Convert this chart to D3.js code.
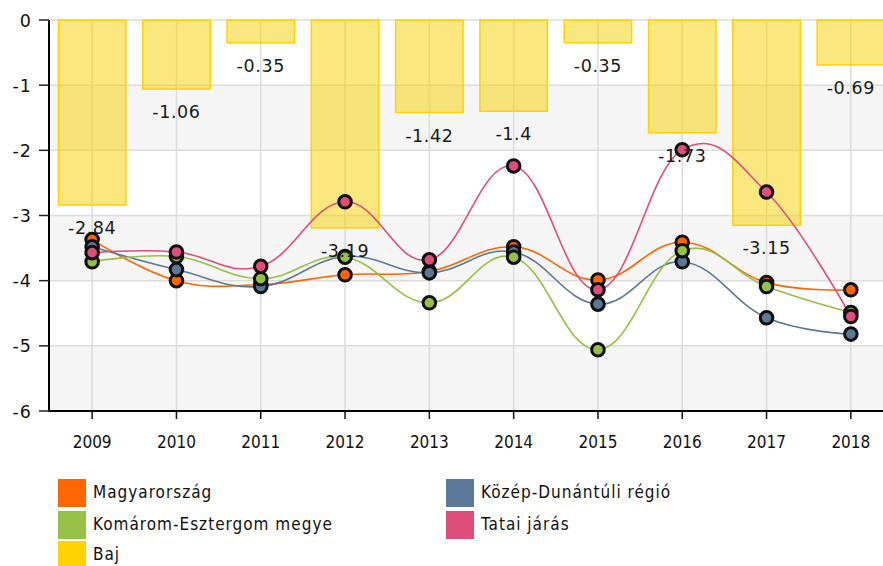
<!DOCTYPE html>
<html><head><meta charset="utf-8">
<script src="https://cdn.jsdelivr.net/npm/d3@7/dist/d3.min.js"></script>
<style>
body{margin:0;background:#fff;}
svg{display:block;font-family:"DejaVu Sans Condensed","DejaVu Sans",sans-serif;font-stretch:condensed;}
.wide{font-family:"DejaVu Sans",sans-serif;font-stretch:normal;}
</style></head>
<body><svg id="c" width="883" height="566"></svg>
<script>
const years = ['2009','2010','2011','2012','2013','2014','2015','2016','2017','2018'];
const baj = [-2.84,-1.06,-0.35,-3.19,-1.42,-1.4,-0.35,-1.73,-3.15,-0.69];
const magyarorszag = [-3.37,-4.0,-4.06,-3.91,-3.86,-3.48,-3.99,-3.41,-4.03,-4.14];
const kozepDunantuli = [-3.48,-3.83,-4.09,-3.63,-3.88,-3.56,-4.36,-3.71,-4.57,-4.82];
const komaromEsztergom = [-3.71,-3.63,-3.97,-3.64,-4.34,-3.64,-5.06,-3.54,-4.09,-4.49];
const tatai = [-3.57,-3.56,-3.78,-2.79,-3.68,-2.24,-4.14,-1.99,-2.64,-4.55];
const yTicks = [0,-1,-2,-3,-4,-5,-6];
const seriesNames = ['Magyarország','Közép-Dunántúli régió','Komárom-Esztergom megye','Tatai járás','Baj'];
const seriesColors = ['#ff6600','#5c7899','#96c046','#df4e7b','#ffd200'];

(function(){
const svg = d3.select('#c');
const pLeft = 49, pTop = 20, pBottom = 411, pRight = 883;
const x = d3.scaleBand().domain(years).range([50, 893]).paddingInner(0).paddingOuter(0);
const y = d3.scaleLinear().domain([-6, 0]).range([pBottom, pTop]);
const cx = d => x(d) + x.bandwidth()/2;

// bands
const g = svg.append('g');
[[-1,-2],[-3,-4],[-5,-6]].forEach(([a,b]) => {
  g.append('rect').attr('x', pLeft).attr('y', y(a)).attr('width', pRight-pLeft).attr('height', y(b)-y(a)).attr('fill', '#f5f5f5');
});
// horizontal grid
g.selectAll('.hg').data(yTicks).enter().append('line')
  .attr('x1', pLeft).attr('x2', pRight).attr('y1', d => y(d)).attr('y2', d => y(d))
  .attr('stroke', '#dcdcdc').attr('stroke-width', 1.5);
// vertical grid
g.selectAll('.vg').data(years).enter().append('line')
  .attr('x1', d => cx(d)).attr('x2', d => cx(d)).attr('y1', pTop).attr('y2', pBottom)
  .attr('stroke', '#dcdcdc').attr('stroke-width', 1.5);

// bars
const bw = x.bandwidth()*0.8;
svg.append('g').selectAll('rect').data(years).enter().append('rect')
  .attr('x', d => cx(d) - bw/2).attr('y', y(0))
  .attr('width', bw).attr('height', (d,i) => y(baj[i]) - y(0))
  .attr('fill', 'rgba(246,210,0,0.5)').attr('stroke', '#ffd200').attr('stroke-width', 1.5);

// lines
const lineData = [magyarorszag, kozepDunantuli, komaromEsztergom, tatai];
const line = d3.line().x((d,i) => cx(years[i])).y(d => y(d)).curve(d3.curveCardinal.tension(-0.2));
lineData.forEach((arr, si) => {
  svg.append('path').attr('d', line(arr)).attr('fill', 'none')
    .attr('stroke', seriesColors[si]).attr('stroke-width', 1.6);
});
lineData.forEach((arr, si) => {
  svg.append('g').selectAll('circle').data(arr).enter().append('circle')
    .attr('cx', (d,i) => cx(years[i])).attr('cy', d => y(d)).attr('r', 6.3)
    .attr('fill', seriesColors[si]).attr('stroke', '#111').attr('stroke-width', 3);
});

// axes
svg.append('line').attr('x1', pLeft).attr('x2', pLeft).attr('y1', pTop).attr('y2', pBottom+1)
  .attr('stroke', '#000').attr('stroke-width', 2);
svg.append('line').attr('x1', pLeft-1).attr('x2', pRight).attr('y1', pBottom).attr('y2', pBottom)
  .attr('stroke', '#000').attr('stroke-width', 2);
svg.selectAll('.yt').data(yTicks).enter().append('line')
  .attr('x1', 39).attr('x2', pLeft).attr('y1', d => y(d)).attr('y2', d => y(d))
  .attr('stroke', '#222').attr('stroke-width', 1.5);
svg.selectAll('.yl').data(yTicks).enter().append('text')
  .attr('class', 'wide')
  .attr('x', 32).attr('y', d => y(d) + 6.5).attr('text-anchor', 'end')
  .attr('font-size', 17.5).attr('fill', '#111').attr('letter-spacing', 1)
  .text(d => String(d));
svg.selectAll('.xt').data(years).enter().append('line')
  .attr('x1', d => cx(d)).attr('x2', d => cx(d)).attr('y1', pBottom).attr('y2', pBottom+8)
  .attr('stroke', '#111').attr('stroke-width', 1.5);
svg.selectAll('.xl').data(years).enter().append('text')
  .attr('x', d => cx(d)).attr('y', 448).attr('text-anchor', 'middle')
  .attr('font-size', 17).attr('fill', '#111').text(d => d);

// bar labels
svg.append('g').selectAll('text').data(years).enter().append('text')
  .attr('class', 'wide')
  .attr('x', d => cx(d)).attr('y', (d,i) => y(baj[i]) + 29).attr('text-anchor', 'middle')
  .attr('font-size', 17.5).attr('fill', '#1a1a1a').attr('letter-spacing', 0.6)
  .text((d,i) => String(baj[i]));

// legend
const legPos = [[58,479],[446,479],[58,511],[446,511],[58,541]];
seriesNames.forEach((n, i) => {
  const [lx, ly] = legPos[i];
  svg.append('rect').attr('x', lx).attr('y', ly).attr('width', 28).attr('height', 28)
    .attr('fill', seriesColors[i]);
  svg.append('text').attr('x', lx + 35).attr('y', ly + 19).attr('font-size', 17)
    .attr('fill', '#111').attr('letter-spacing', 1).text(n);
});
})();
</script></body></html>
